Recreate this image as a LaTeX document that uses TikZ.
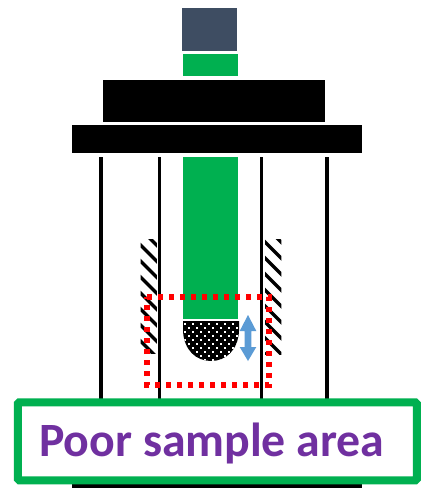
\documentclass[tikz,border=0pt]{standalone}
\usepackage{fontspec}
\setmainfont{Carlito}
\definecolor{ggreen}{HTML}{00B050}
\definecolor{slate}{HTML}{3E4D62}
\definecolor{purp}{HTML}{7030A0}
\definecolor{blu}{HTML}{5B9BD5}
\tikzset{
  blockfill/.style={fill=black,draw=none},
  greenfill/.style={fill=ggreen,draw=none},
  wall/.style={draw=black},
  stripe/.style={draw=black,line width=3.4},
  reddots/.style={draw=red,line width=5.6,dash pattern=on 5.4 off 5.6},
}
\begin{document}
\begin{tikzpicture}[x=1pt,y=-1pt]
\useasboundingbox (0,0) rectangle (423,488);
\fill[white] (0,0) rectangle (423,488);
% top stack
\fill[slate] (181.5,7.5) rectangle (237,51);
\fill[greenfill] (182.5,54) rectangle (238,76);
\fill[blockfill] (103,80) rectangle (325,122);
\fill[blockfill] (72,125) rectangle (362,153);
% tube walls
\foreach \wx/\wt in {101/4,159.5/3,261/3,326.5/4}
  \draw[wall,line width=\wt] (\wx,157) -- (\wx,400);
% plunger
\fill[greenfill] (182.5,157) rectangle (238,319);
% hatching
\foreach \hx/\hy/\hb in {140.5/245/353,265/242/354}{
  \begin{scope}
    \clip (\hx,239) rectangle (\hx+16.3,\hb);
    \foreach \k in {-1,...,7}
      \draw[stripe] (\hx-4,\hy+16*\k-4) -- (\hx+20,\hy+16*\k+20);
  \end{scope}
}
% sample hemisphere
\begin{scope}
  \clip (183,321) -- (239,321) -- (239,331) .. controls (238,350) and (226,361) .. (211,361) .. controls (196,361) and (184,350) .. (183,331) -- cycle;
  \fill[black] (180,318) rectangle (242,364);
  \foreach \r in {0,...,9}{
    \pgfmathsetmacro{\off}{mod(\r,2)*4}
    \foreach \c in {0,...,7}
      \fill[white] (185+\off+8*\c-1,323.5+4.1*\r-1) rectangle ++(2,2);
  }
\end{scope}
% double arrow
\fill[blu] (248,315) -- (256.3,331) -- (251.3,331) -- (251.3,347) -- (256.3,347) -- (248,361) -- (239.7,347) -- (244.7,347) -- (244.7,331) -- (239.7,331) -- cycle;
% dotted frame
\draw[reddots] (147,297) -- (269,297) -- (269,385) -- (147,385) -- cycle;
% bottom edge and label
\fill[blockfill] (72,482) rectangle (362,488);
\node[draw=ggreen,fill=white,line width=8,rounded corners=1.5,minimum width=399,minimum height=78,inner sep=0,anchor=north west,outer sep=0] (label) at (17.8,402.3) {};
\node[anchor=base west,inner sep=0,text=purp,font=\fontsize{47.8}{47.8}\selectfont\bfseries] (labeltext) at (39,456.5) {Poor sample area};
\end{tikzpicture}
\end{document}
